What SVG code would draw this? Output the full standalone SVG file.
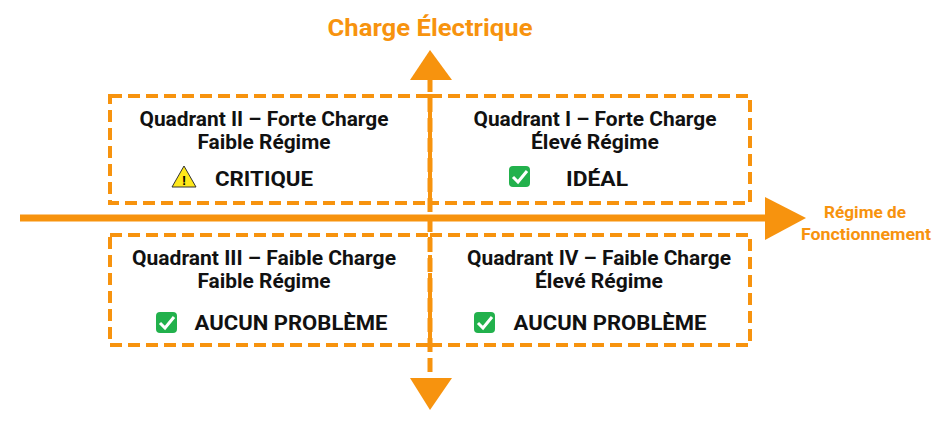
<svg xmlns="http://www.w3.org/2000/svg" width="940" height="421" viewBox="0 0 940 421">
<style>
.box{fill:none;stroke:#F7930E;stroke-width:4;stroke-dasharray:12 6}
.t{font-family:Roboto,"DejaVu Sans",sans-serif;font-weight:bold;font-size:20px;fill:#111;text-anchor:middle}
.s{font-size:21px}
.o{font-family:Roboto,"DejaVu Sans",sans-serif;font-weight:bold;fill:#F7930E;text-anchor:middle}
</style>
<rect width="940" height="421" fill="#fff"/>
<g id="connectors">
<line x1="20" y1="218" x2="768" y2="218" stroke="#F7930E" stroke-width="7"/>
<polygon points="765,197 806,218 765,240" fill="#F7930E"/>
<line x1="430" y1="78" x2="430" y2="380" stroke="#F7930E" stroke-width="5" stroke-dasharray="14 6"/>
<polygon points="410,80 430,50 452,80" fill="#F7930E"/>
<polygon points="410,378 452,378 430,410" fill="#F7930E"/>
</g>
<g id="axis-y"><text class="o" x="430" y="36" font-size="24" textLength="205" lengthAdjust="spacingAndGlyphs">Charge Électrique</text></g>
<g id="axis-x"><text class="o" x="865" y="218" font-size="16" textLength="82" lengthAdjust="spacingAndGlyphs">Régime de</text><text class="o" x="866" y="240" font-size="16" textLength="130" lengthAdjust="spacingAndGlyphs">Fonctionnement</text></g>
<g id="q2"><rect class="box" x="110" y="96" width="320" height="107"/>
<text class="t" x="264" y="126" textLength="249" lengthAdjust="spacingAndGlyphs">Quadrant II – Forte Charge</text>
<text class="t" x="264" y="149" textLength="133" lengthAdjust="spacingAndGlyphs">Faible Régime</text>
<polygon points="184,166 172,187 196,187" fill="#FFE81A" stroke="#333" stroke-width="1"/>
<text x="184" y="185" font-family="Roboto,sans-serif" font-weight="bold" font-size="13" text-anchor="middle">!</text>
<text class="t s" x="264" y="186" textLength="98" lengthAdjust="spacingAndGlyphs">CRITIQUE</text></g>
<g id="q1"><rect class="box" x="430" y="96" width="320" height="107"/>
<text class="t" x="595" y="126" textLength="243" lengthAdjust="spacingAndGlyphs">Quadrant I – Forte Charge</text>
<text class="t" x="595" y="149" textLength="128" lengthAdjust="spacingAndGlyphs">Élevé Régime</text>
<rect x="509" y="166" width="21" height="21" rx="4" fill="#22B14C"/><path d="M513 177 l5 5 l9 -11" stroke="#fff" stroke-width="3" fill="none"/>
<text class="t s" x="597" y="186" textLength="62" lengthAdjust="spacingAndGlyphs">IDÉAL</text></g>
<g id="q3"><rect class="box" x="110" y="235" width="320" height="110"/>
<text class="t" x="264" y="265" textLength="264" lengthAdjust="spacingAndGlyphs">Quadrant III – Faible Charge</text>
<text class="t" x="264" y="288" textLength="133" lengthAdjust="spacingAndGlyphs">Faible Régime</text>
<rect x="156" y="312" width="21" height="21" rx="4" fill="#22B14C"/><path d="M160 323 l5 5 l9 -11" stroke="#fff" stroke-width="3" fill="none"/>
<text class="t s" x="291" y="330" textLength="193" lengthAdjust="spacingAndGlyphs">AUCUN PROBLÈME</text></g>
<g id="q4"><rect class="box" x="430" y="235" width="320" height="110"/>
<text class="t" x="599" y="265" textLength="264" lengthAdjust="spacingAndGlyphs">Quadrant IV – Faible Charge</text>
<text class="t" x="599" y="288" textLength="128" lengthAdjust="spacingAndGlyphs">Élevé Régime</text>
<rect x="474" y="312" width="21" height="21" rx="4" fill="#22B14C"/><path d="M478 323 l5 5 l9 -11" stroke="#fff" stroke-width="3" fill="none"/>
<text class="t s" x="610" y="330" textLength="193" lengthAdjust="spacingAndGlyphs">AUCUN PROBLÈME</text></g>
</svg>
